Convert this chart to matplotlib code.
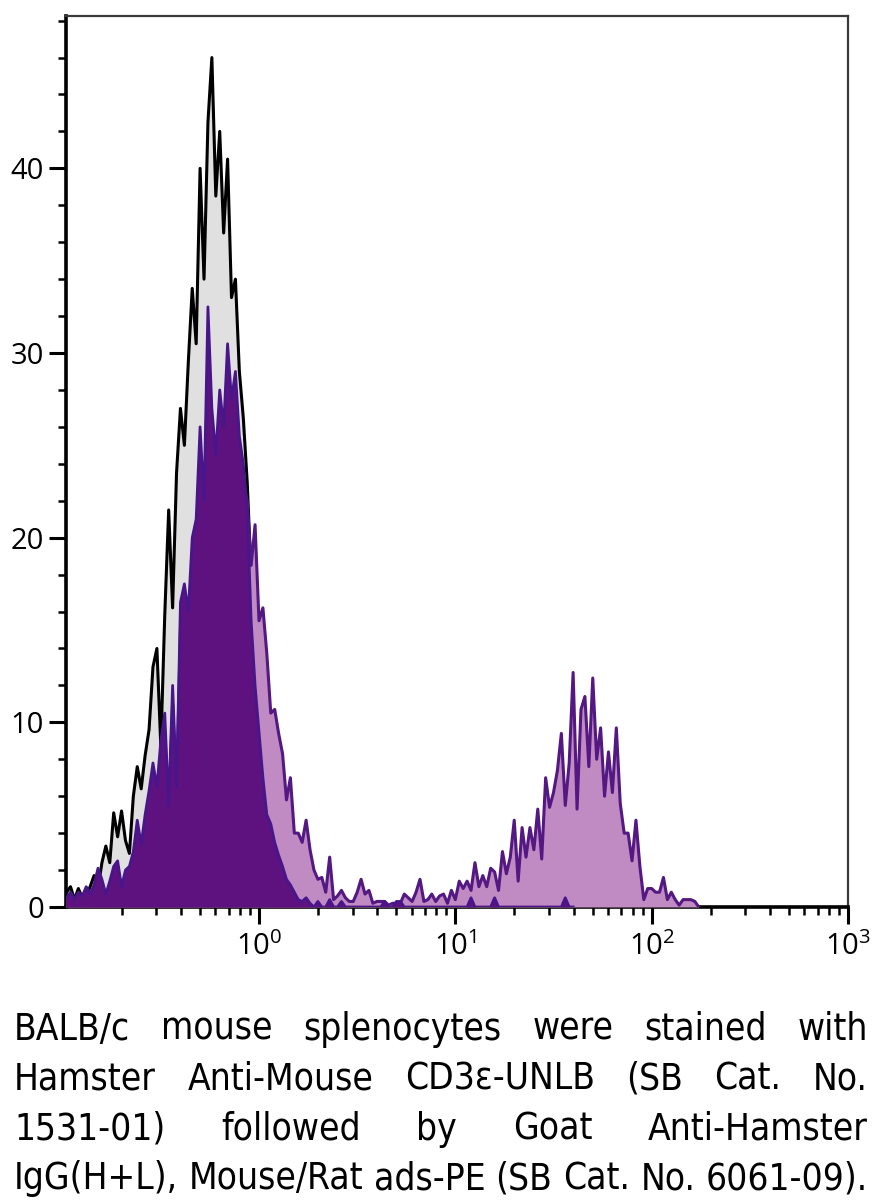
import matplotlib
matplotlib.use("Agg")
import numpy as np
from matplotlib import pyplot as plt
from matplotlib import font_manager
from matplotlib.ticker import LogLocator, NullFormatter, MultipleLocator

# channel grid (log10 of the first channel and the channel width)
log_start = -1.0
log_step = 0.02

# counts per channel
control = [
    0.5,
    0.8, 1.1, 0.4, 1.0, 0.5, 0.6, 1.1, 1.7, 1.0, 2.4,
    3.3, 2.4, 5.1, 3.8, 5.2, 3.6, 2.9, 6.0, 7.6, 6.4,
    8.2, 9.6, 13.0, 14.0, 8.7, 15.8, 21.5, 16.2, 23.5, 27.0,
    25.0, 29.5, 33.5, 30.5, 40.0, 34.0, 42.5, 46.0, 38.5, 42.0,
    36.5, 40.5, 33.0, 34.0, 29.0, 26.5, 23.0, 18.0, 13.0, 9.0,
    6.0, 4.0, 2.5, 1.5, 0.8, 0.4, 0.0,
]

secondary = [
    0.3,
    0.5, 0.8, 0.4, 0.8, 0.6, 1.1, 0.7, 1.2, 2.1, 1.5,
    0.7, 1.4, 2.2, 2.5, 1.1, 2.0, 2.2, 3.0, 4.7, 3.4,
    5.0, 6.3, 7.8, 6.5, 9.0, 10.5, 5.5, 12.0, 6.5, 16.5,
    17.5, 16.0, 20.0, 21.0, 26.0, 22.0, 32.5, 27.0, 24.5, 28.0,
    26.0, 30.5, 27.5, 29.0, 25.5, 24.0, 21.5, 15.5, 12.0, 9.5,
    7.0, 5.0, 4.5, 3.5, 2.8, 2.2, 1.5, 1.2, 0.8, 0.4,
    0.3, 0.5, 0.2, 0.0, 0.3, 0.0, 0.0, 0.4, 0.0, 0.0,
    0.3, 0.0, 0.0, 0.0, 0.0, 0.0, 0.0, 0.0, 0.0, 0.0,
    0.0, 0.3, 0.0, 0.0, 0.3, 0.3, 0.0, 0.0, 0.0, 0.0,
    0.0, 0.0, 0.0, 0.0, 0.0, 0.0, 0.0, 0.0, 0.0, 0.0,
    0.0, 0.0, 0.0, 0.5, 0.0, 0.0, 0.0, 0.0, 0.0, 0.5,
    0.0, 0.0, 0.0, 0.0, 0.0, 0.0, 0.0, 0.0, 0.0, 0.0,
    0.0, 0.0, 0.0, 0.0, 0.0, 0.0, 0.0, 0.5, 0.0, 0.0,
]

stained = [
    0.3,
    0.4, 0.6, 0.3, 0.7, 0.5, 0.9, 0.6, 1.0, 1.8, 1.2,
    0.6, 1.2, 1.9, 2.2, 0.9, 1.8, 1.9, 2.7, 4.2, 3.0,
    4.5, 5.6, 7.0, 5.8, 8.0, 9.5, 5.0, 11.0, 6.0, 15.0,
    16.0, 14.5, 18.5, 19.0, 24.0, 20.5, 30.0, 25.0, 22.5, 26.0,
    24.5, 28.5, 26.0, 27.5, 24.5, 23.0, 22.0, 18.5, 20.7, 15.5,
    16.2, 13.7, 10.5, 10.7, 9.4, 8.3, 5.8, 7.0, 4.0, 4.0,
    3.5, 4.7, 3.1, 2.0, 1.5, 1.6, 0.8, 2.7, 0.4, 0.6,
    0.9, 0.5, 0.3, 0.3, 0.8, 1.5, 0.7, 0.9, 0.2, 0.3,
    0.3, 0.3, 0.1, 0.2, 0.2, 0.2, 0.7, 0.5, 0.3, 0.8,
    1.5, 0.3, 0.4, 0.7, 0.3, 0.6, 0.7, 0.2, 0.9, 0.4,
    1.4, 1.0, 1.4, 0.9, 2.4, 1.1, 1.7, 1.1, 2.1, 1.9,
    0.9, 3.0, 1.8, 2.7, 4.7, 1.4, 4.3, 2.7, 4.3, 3.1,
    5.3, 2.6, 7.0, 5.4, 6.2, 7.4, 9.4, 5.5, 7.8, 12.7,
    5.3, 10.7, 11.4, 7.6, 12.4, 8.0, 9.7, 6.0, 8.4, 6.2,
    9.7, 5.6, 4.0, 4.0, 2.5, 4.7, 2.2, 0.4, 1.0, 1.0,
    0.8, 0.8, 1.6, 0.4, 0.8, 0.4, 0.1, 0.4, 0.4, 0.4,
    0.3, 0.0,
]

y_ticks = [0, 10, 20, 30, 40]

caption_lines = [
    "BALB/c mouse splenocytes were stained with",
    "Hamster Anti-Mouse CD3\u03b5-UNLB (SB Cat. No.",
    "1531-01) followed by Goat Anti-Hamster",
    "IgG(H+L), Mouse/Rat ads-PE (SB Cat. No. 6061-09).",
]


def channels(values):
    return 10 ** (log_start + log_step * np.arange(len(values)))


entries = font_manager.fontManager.ttflist
names = {f.name for f in entries}
tick_font = "Open Sans" if "Open Sans" in names else "DejaVu Sans"

# narrow face for the caption, whichever is installed
cap_font, cap_stretch = "Liberation Sans", "normal"
if "Liberation Sans Narrow" in names:
    cap_font = "Liberation Sans Narrow"
elif any(f.name == "DejaVu Sans" and str(f.stretch) == "condensed" for f in entries):
    cap_font, cap_stretch = "DejaVu Sans", "condensed"
elif "Liberation Sans" not in names:
    cap_font = "DejaVu Sans"

plt.rcParams["font.family"] = [tick_font, "DejaVu Sans"]

W, H = 878, 1201
fig = plt.figure(figsize=(W / 100, H / 100), dpi=100)
ax = fig.add_axes([66 / W, 1 - 907 / H, (848 - 66) / W, (907 - 16) / H])

# control: grey fill, black outline
x = channels(control)
ax.fill_between(x, 0, control, color="#e0e0e0", lw=0, zorder=1)
ax.plot(x, control, color="black", lw=2.2, zorder=2)

# stained: light purple fill
x = channels(stained)
ax.fill_between(x, 0, stained, color="#c08bc2", lw=0, zorder=3)
ax.plot(x, stained, color="#541883", lw=2.2, zorder=4)

# secondary only: dark purple fill
x = channels(secondary)
ax.fill_between(x, 0, secondary, color="#5d1280", lw=0, zorder=5)
ax.plot(x, secondary, color="#48168a", lw=2.0, zorder=6)

ax.set_xscale("log")
ax.set_xlim(0.104, 1000)
ax.set_ylim(0, 48.25)

ax.xaxis.set_major_locator(LogLocator(base=10, numticks=10))
ax.xaxis.set_minor_locator(LogLocator(base=10, subs=np.arange(2, 10), numticks=50))
ax.xaxis.set_minor_formatter(NullFormatter())
ax.set_yticks(y_ticks)
ax.yaxis.set_minor_locator(MultipleLocator(2))

ax.tick_params(which="major", direction="out", length=12, width=2.2,
               labelsize=21, color="black")
ax.tick_params(which="minor", direction="out", length=5.5, width=1.8, color="black")
ax.tick_params(axis="y", which="major", pad=4)
ax.tick_params(axis="x", which="major", pad=6)
ax.tick_params(top=False, right=False, which="both")

for side in ["left", "bottom"]:
    ax.spines[side].set_linewidth(2.6)
    ax.spines[side].set_color("black")
for side in ["top", "right"]:
    ax.spines[side].set_linewidth(1.6)
    ax.spines[side].set_color("#3a3a3a")

# justified caption
fig.canvas.draw()
renderer = fig.canvas.get_renderer()
left_px, right_px = 14, 868
baselines = [1040, 1090, 1140, 1189]
cap_kw = dict(family=[cap_font, "DejaVu Sans"], fontstretch=cap_stretch,
              va="baseline", ha="left")

# size the font so the last (unstretched) line spans the text block
probe = fig.text(0, 0, caption_lines[-1], fontsize=27, **cap_kw)
cap_size = 27 * (right_px - left_px) / probe.get_window_extent(renderer).width
probe.remove()

for n, line in enumerate(caption_lines):
    words = line.split(" ")
    yb = 1 - baselines[n] / H
    texts = [fig.text(0, yb, w, fontsize=cap_size, **cap_kw) for w in words]
    widths = [t.get_window_extent(renderer).width for t in texts]
    gap = (right_px - left_px - sum(widths)) / (len(words) - 1)
    pos = left_px
    for t, w in zip(texts, widths):
        t.set_x(pos / W)
        pos += w + gap

fig.savefig("out.png", dpi=100)
